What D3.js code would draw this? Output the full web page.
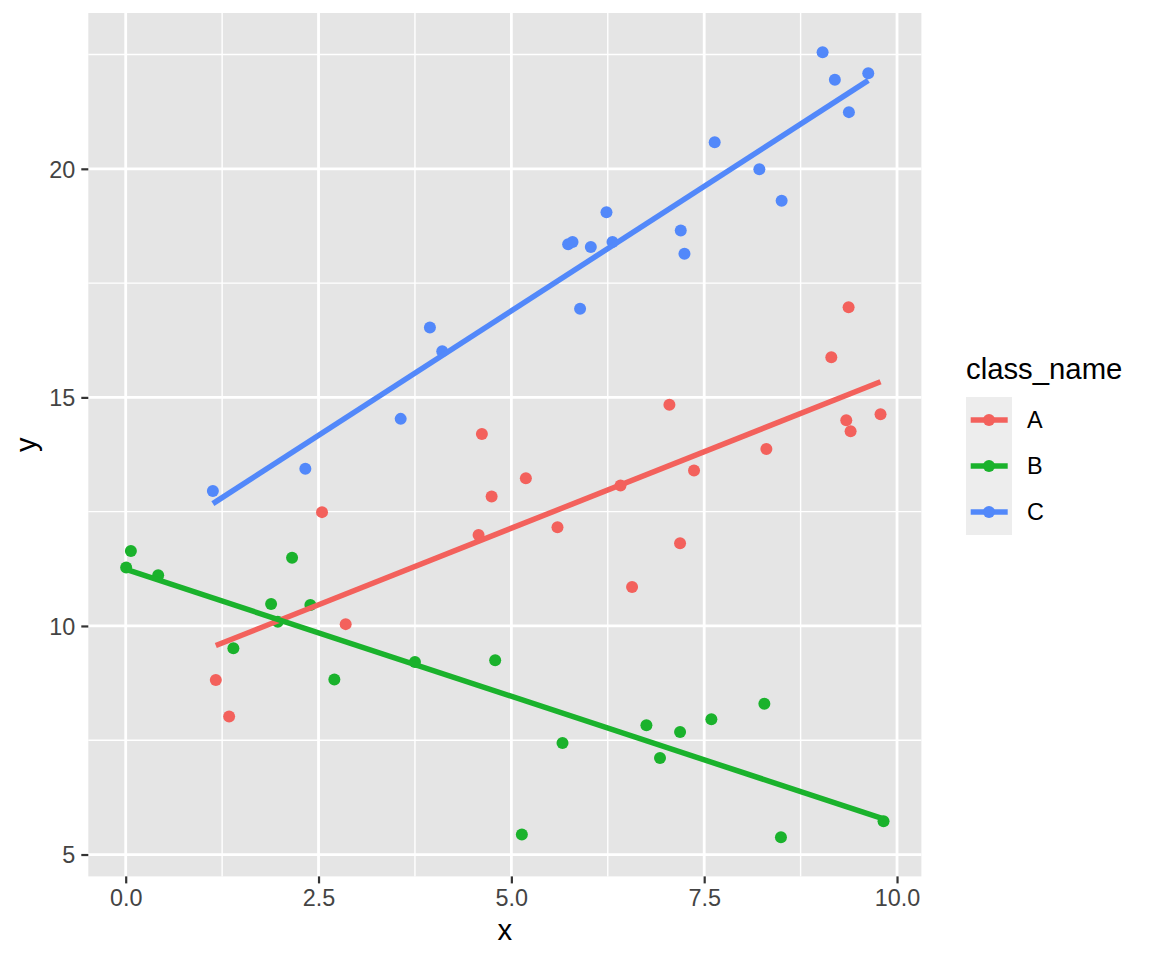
<!DOCTYPE html>
<html><head><meta charset="utf-8">
<script src="https://cdn.jsdelivr.net/npm/d3@7"></script>
<style>body{margin:0;background:#fff}</style>
</head><body>
<svg id="chart" width="1152" height="960"></svg>
<script>
// ---- data ----
const classNames = ["A", "B", "C"];
const classColors = ["#F3615C", "#1AB22C", "#5288FA"];

const xA = [1.168, 1.341, 2.545, 2.852, 4.575, 4.618, 4.744, 5.188, 5.598, 6.415, 6.565, 7.049, 7.187, 7.368, 8.306, 9.148, 9.372, 9.342, 9.398, 9.786];
const yA = [8.82, 8.02, 12.49, 10.04, 11.99, 14.20, 12.83, 13.23, 12.16, 13.07, 10.85, 14.84, 11.81, 13.40, 13.87, 15.88, 16.97, 14.50, 14.26, 14.63];

const xB = [0.006, 0.067, 0.421, 1.396, 1.885, 1.972, 2.157, 2.394, 2.705, 3.750, 4.790, 5.136, 5.663, 6.751, 6.927, 7.187, 7.593, 8.280, 8.495, 9.825];
const yB = [11.28, 11.64, 11.11, 9.51, 10.48, 10.09, 11.49, 10.46, 8.83, 9.21, 9.25, 5.44, 7.44, 7.83, 7.11, 7.68, 7.96, 8.30, 5.38, 5.73];

const xC = [1.130, 2.329, 3.565, 3.944, 4.104, 5.736, 5.793, 5.891, 6.030, 6.233, 6.311, 7.196, 7.244, 7.636, 8.215, 8.504, 9.035, 9.194, 9.376, 9.627];
const yC = [12.95, 13.44, 14.53, 16.53, 16.01, 18.35, 18.40, 16.94, 18.29, 19.05, 18.40, 18.65, 18.14, 20.58, 19.99, 19.30, 22.55, 21.95, 21.24, 22.09];

const xTicks = [0, 2.5, 5, 7.5, 10];
const xTickLabels = ["0.0", "2.5", "5.0", "7.5", "10.0"];
const xMinor = [1.25, 3.75, 6.25, 8.75];
const yTicks = [5, 10, 15, 20];
const yTickLabels = ["5", "10", "15", "20"];
const yMinor = [7.5, 12.5, 17.5, 22.5];
const xTitle = "x", yTitle = "y", legendTitle = "class_name";

// ---- layout ----
const groups = [
  {name: classNames[0], color: classColors[0], xs: xA, ys: yA},
  {name: classNames[1], color: classColors[1], xs: xB, ys: yB},
  {name: classNames[2], color: classColors[2], xs: xC, ys: yC}
];
const allX = groups.flatMap(g => g.xs), allY = groups.flatMap(g => g.ys);
function expand(ext) { const d = (ext[1] - ext[0]) * 0.05; return [ext[0] - d, ext[1] + d]; }

const P = {left: 88.3, right: 921.4, top: 13, bottom: 876.4};
const x = d3.scaleLinear().domain(expand(d3.extent(allX))).range([P.left, P.right]);
const y = d3.scaleLinear().domain(expand(d3.extent(allY))).range([P.bottom, P.top]);

const font = "'Liberation Sans', Arial, Helvetica, sans-serif";
const svg = d3.select("#chart").style("font-family", font);

svg.append("rect").attr("x", P.left).attr("y", P.top)
  .attr("width", P.right - P.left).attr("height", P.bottom - P.top).attr("fill", "#E5E5E5");

const grid = svg.append("g");
grid.selectAll(".xm").data(xMinor).join("line")
  .attr("x1", d => x(d)).attr("x2", d => x(d)).attr("y1", P.top).attr("y2", P.bottom)
  .attr("stroke", "#fff").attr("stroke-width", 1.4);
grid.selectAll(".ym").data(yMinor).join("line")
  .attr("y1", d => y(d)).attr("y2", d => y(d)).attr("x1", P.left).attr("x2", P.right)
  .attr("stroke", "#fff").attr("stroke-width", 1.4);
grid.selectAll(".xg").data(xTicks).join("line")
  .attr("x1", d => x(d)).attr("x2", d => x(d)).attr("y1", P.top).attr("y2", P.bottom)
  .attr("stroke", "#fff").attr("stroke-width", 2.8);
grid.selectAll(".yg").data(yTicks).join("line")
  .attr("y1", d => y(d)).attr("y2", d => y(d)).attr("x1", P.left).attr("x2", P.right)
  .attr("stroke", "#fff").attr("stroke-width", 2.8);

// axes via d3 axis generators
const xAxis = d3.axisBottom(x).tickValues(xTicks).tickFormat((d, i) => xTickLabels[i]).tickSize(7).tickPadding(6);
const yAxis = d3.axisLeft(y).tickValues(yTicks).tickFormat((d, i) => yTickLabels[i]).tickSize(7).tickPadding(6);
const gx = svg.append("g").attr("transform", `translate(0,${P.bottom})`).call(xAxis);
const gy = svg.append("g").attr("transform", `translate(${P.left},0)`).call(yAxis);
[gx, gy].forEach(g => {
  g.select(".domain").remove();
  g.selectAll(".tick line").attr("stroke", "#333333").attr("stroke-width", 2.2);
  g.selectAll(".tick text").attr("fill", "#444444").style("font-size", "23.4px").style("font-family", font);
});
gx.selectAll(".tick text").attr("dy", null).attr("y", 29.6);
gy.selectAll(".tick text").attr("dy", null).attr("y", 8.3);

// regression lines (lm per group)
function lm(xs, ys) {
  const mx = d3.mean(xs), my = d3.mean(ys);
  let sxy = 0, sxx = 0;
  xs.forEach((v, i) => { sxy += (v - mx) * (ys[i] - my); sxx += (v - mx) * (v - mx); });
  const b = sxy / sxx, a = my - b * mx;
  const [x0, x1] = d3.extent(xs);
  return [[x0, a + b * x0], [x1, a + b * x1]];
}
const line = d3.line().x(d => x(d[0])).y(d => y(d[1]));

// points
groups.forEach(g => {
  svg.append("g").selectAll("circle").data(g.xs.map((v, i) => [v, g.ys[i]])).join("circle")
    .attr("cx", d => x(d[0])).attr("cy", d => y(d[1])).attr("r", 6).attr("fill", g.color);
});
groups.forEach(g => {
  svg.append("path").datum(lm(g.xs, g.ys)).attr("d", line)
    .attr("fill", "none").attr("stroke", g.color).attr("stroke-width", 5.5);
});

// axis titles
svg.append("text").attr("x", (P.left + P.right) / 2).attr("y", 940).attr("text-anchor", "middle")
  .style("font-size", "29.3px").attr("fill", "#000").text(xTitle);
svg.append("text").attr("transform", `translate(35.7,${(P.top + P.bottom) / 2}) rotate(-90)`)
  .attr("text-anchor", "middle").style("font-size", "29.3px").attr("fill", "#000").text(yTitle);

// legend
const L = {x: 966, y: 397, w: 46, h: 46};
svg.append("text").attr("x", L.x).attr("y", 379).style("font-size", "29.3px").attr("fill", "#000").text(legendTitle);
const lg = svg.append("g").selectAll("g").data(groups).join("g")
  .attr("transform", (d, i) => `translate(${L.x},${L.y + i * L.h})`);
lg.append("rect").attr("width", L.w).attr("height", L.h).attr("fill", "#EDEDED");
lg.append("line").attr("x1", 4.7).attr("x2", 41.7).attr("y1", L.h / 2).attr("y2", L.h / 2)
  .attr("stroke", d => d.color).attr("stroke-width", 5.5);
lg.append("circle").attr("cx", L.w / 2).attr("cy", L.h / 2).attr("r", 6).attr("fill", d => d.color);
lg.append("text").attr("x", 61).attr("y", L.h / 2 + 8.3).style("font-size", "23.4px").attr("fill", "#000")
  .text(d => d.name);
</script>
</body></html>
